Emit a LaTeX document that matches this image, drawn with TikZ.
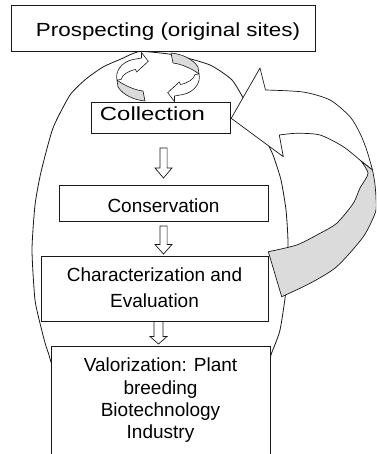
\documentclass[tikz,border=0pt]{standalone}
\usepackage{fontspec}
\setmainfont{Liberation Sans}
\newfontfamily\prosfont[FakeStretch=1.18]{Liberation Sans}
\newfontfamily\collfont[FakeStretch=1.26]{Liberation Sans}
\usetikzlibrary{calc}
\definecolor{ink}{gray}{0.1}
\definecolor{ribbon}{gray}{0.86}
% #1 tip coordinate, #2 length, #3 head length, #4 shaft half width, #5 head half width
\newcommand{\hollowdown}[5]{%
  \draw[hollowline, shift={(#1)}] (0,0) -- (-#5,-#3) -- (-#4,-#3) -- (-#4,-#2)
    -- (#4,-#2) -- (#4,-#3) -- (#5,-#3) -- cycle;}
\begin{document}
\begin{tikzpicture}[x=1pt,y=-1pt,
  box/.style={draw=ink, fill=white, line width=0.8pt, inner sep=0pt, outer sep=0pt},
  txt/.style={inner sep=0pt, anchor=base, font=\fontsize{19}{22}\selectfont, text=black},
  hollowline/.style={draw=ink, fill=white, line width=0.7pt, line join=miter},
  outl/.style={draw=ink, line width=0.7pt, line join=round},
  loopline/.style={draw=ink, line width=0.6pt, line join=round}
]
\clip (0,0) rectangle (376,454);
\fill[white] (0,0) rectangle (376,454);

% egg-shaped outline
\draw[ink, line width=0.8pt] plot[smooth cycle, tension=0.35] coordinates {
  (140,51.5) (175,55) (210,65) (232,80) (246,103) (262,132) (273,155) (281,180)
  (286,210) (288,243) (286,290) (280,330) (272,352) (250,405) (160,435) (70,405)
  (48,352) (41.7,330) (35,300) (32,250) (35,205) (41,172) (53,128) (70,95)
  (86,79) (103,67) (121,59)};

% boxes
\node[box, minimum width=304pt, minimum height=46pt] (pros) at (163,28) {};
\node[box, minimum width=139pt, minimum height=31pt] (coll) at (160.5,117.5) {};
\node[box, minimum width=209pt, minimum height=36pt] (cons) at (163.5,203) {};
\node[box, minimum width=227pt, minimum height=65pt] (char) at (154.5,288.5) {};
\node[box, minimum width=219pt, minimum height=124pt] (val) at (160.5,408) {};

% texts
\node[txt] (tpros) at (168,36.7) {\prosfont Prospecting (original sites)};
\node[txt] (tcoll) at (152.5,120.7) {\collfont Collection};
\node[txt] (tcons) at (163.5,212.3) {Conservation};
\node[txt] (tchar1) at (154.5,281.7) {Characterization and};
\node[txt] (tchar2) at (154.5,307.7) {Evaluation};
\node[txt] (tval1) at (160.5,371.7) {Valorization: Plant};
\node[txt] (tval2) at (160.5,394) {breeding};
\node[txt] (tval3) at (160.5,416.7) {Biotechnology};
\node[txt] (tval4) at (160.5,438.3) {Industry};

% hollow down arrows between the boxes
\coordinate (c1) at ([yshift=7pt]cons.north);
\hollowdown{c1}{30}{10}{3.6}{8.5}
\coordinate (c2) at ([yshift=2pt]cons.south |- char.north);
\hollowdown{c2}{28}{9.5}{3.6}{8.5}
\coordinate (m3) at ($(char.south)!0.5!(val.north)$);
\coordinate (c3) at ([xshift=1pt,yshift=2pt]m3 |- val.north);
\hollowdown{c3}{22.5}{7.5}{4.5}{8.5}

% small circular arrows between Prospecting and Collection
\begin{scope}
  \draw[loopline, fill=ribbon] (117,80) .. controls (125,86) and (135,90) .. (143,91)
     -- (145,101) .. controls (134,100) and (123,95) .. (118,87) -- cycle;
  \draw[loopline, fill=white] (117,80) .. controls (115,72) and (121,62) .. (133,59.5)
     .. controls (137,58.6) .. (141.5,58) -- (141.5,52.5) -- (148.3,61.3) -- (136.7,72)
     -- (135.5,69.5) .. controls (128,71) and (122,75) .. (121,79.5) -- cycle;
\end{scope}
\begin{scope}[rotate around={180:(158,77)}]
  \draw[loopline, fill=ribbon] (117,80) .. controls (125,86) and (135,90) .. (143,91)
     -- (145,101) .. controls (134,100) and (123,95) .. (118,87) -- cycle;
  \draw[loopline, fill=white] (117,80) .. controls (115,72) and (121,62) .. (133,59.5)
     .. controls (137,58.6) .. (141.5,58) -- (141.5,52.5) -- (148.3,61.3) -- (136.7,72)
     -- (135.5,69.5) .. controls (128,71) and (122,75) .. (121,79.5) -- cycle;
\end{scope}

% big curved feedback arrow (Characterization -> Collection)
\coordinate (tipA) at ([xshift=1.2pt,yshift=-0.8pt]coll.east);
\draw[outl, fill=white] (tipA) -- (260,68) -- (265.5,90)
  -- plot[smooth, tension=0.45] coordinates {(265.5,90) (303,92) (330,100) (350,116.7) (360,133.3) (366.7,150) (372.5,170)}
  -- (361,161)
  -- plot[smooth, tension=0.45] coordinates {(361,161) (343.3,146.7) (320,135) (296.7,133.3) (279.3,135)}
  -- (283.3,156.7) -- cycle;
\draw[outl, fill=ribbon] (372.5,170)
  -- plot[smooth, tension=0.45] coordinates {(372.5,170) (374.8,183) (376,198) (375.5,212) (363.3,236.7) (336.7,266.7) (310,283.3) (281.7,296.7)}
  -- (268.3,251.7)
  -- plot[smooth, tension=0.45] coordinates {(268.3,251.7) (296.7,245) (320,233.3) (336.7,223.3) (353.3,203.3) (360,188) (368,173.5) (361,161)}
  -- cycle;
\end{tikzpicture}
\end{document}
